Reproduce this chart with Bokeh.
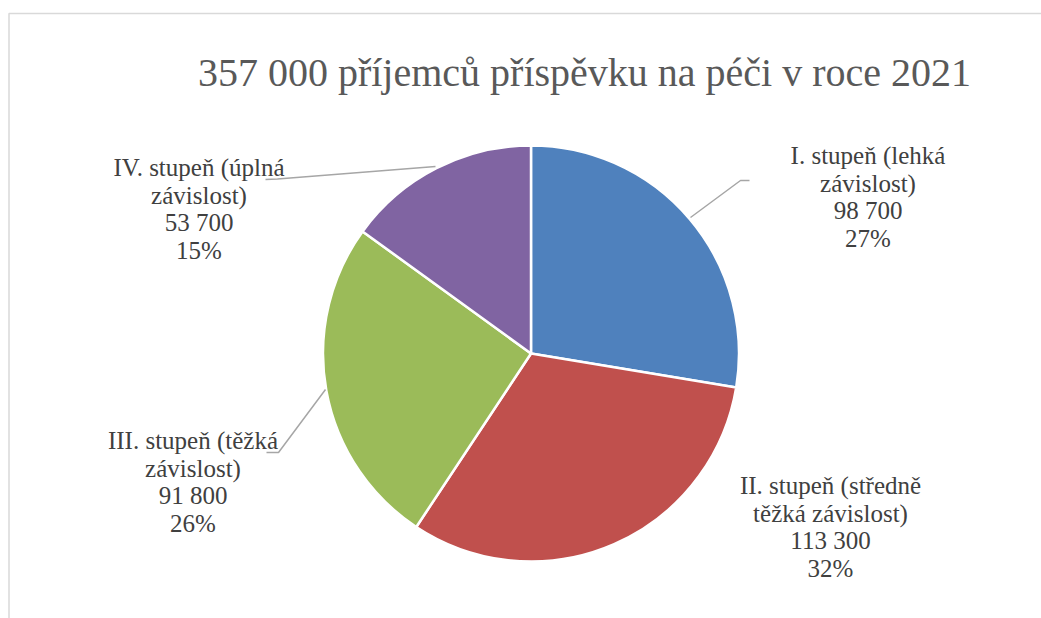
import numpy as np
from bokeh.plotting import figure
from bokeh.models import Range1d
from bokeh.core.properties import value
from bokeh.embed import file_html
from bokeh.resources import INLINE

# ---- data ----
chart_title = "357 000 příjemců příspěvku na péči v roce 2021"
cat_line1 = ["I. stupeň (lehká", "II. stupeň (středně", "III. stupeň (těžká", "IV. stupeň (úplná"]
cat_line2 = ["závislost)", "těžká závislost)", "závislost)", "závislost)"]
values = [98700, 113300, 91800, 53700]
percent_labels = ["27%", "32%", "26%", "15%"]
colors = ["#4F81BD", "#C0504D", "#9BBB59", "#8064A2"]

# ---- layout (page pixel coordinates) ----
W, H = 1041, 618
def X(px):
    return px
def Y(py):
    return H - py

FONT = "Liberation Serif"
p = figure(width=W, height=H, output_backend="svg", toolbar_location=None,
           x_range=Range1d(0, W), y_range=Range1d(0, H), min_border=0,
           background_fill_color="white", border_fill_color="white")
p.axis.visible = False
p.grid.visible = False
p.outline_line_color = None

# frame border
p.line([X(8.5), X(8.5), X(1100)], [Y(700), Y(13), Y(13)], line_color="#D9D9D9", line_width=1.5)

# title
p.text([X(584)], [Y(72)], text=[chart_title], text_font=value(FONT), text_font_size="40px",
       text_color="#595959", text_align="center", text_baseline="middle")

# pie
cx, cy, r = X(530.5), Y(353), 208
total = float(sum(values))
cum = np.cumsum([0] + values) / total
starts = np.pi / 2 - 2 * np.pi * cum[:-1]
ends = np.pi / 2 - 2 * np.pi * cum[1:]
p.wedge(x=cx, y=cy, radius=r, start_angle=list(starts), end_angle=list(ends),
        direction="clock", fill_color=colors, line_color="white", line_width=2.5)

# leader lines
leaders = [
    [(690, 217), (740, 180), (749, 180)],
    None,
    [(325, 389), (278, 452), (266, 452)],
    [(435, 166), (277, 178.5), (265, 179)],
]
for ld in leaders:
    if ld:
        p.line([X(a) for a, b in ld], [Y(b) for a, b in ld], line_color="#A6A6A6", line_width=1.5)

# data labels
label_pos = [(867.5, 155), (830, 485), (192.5, 440), (198.5, 167)]
step = 27.5
for i, (lx, ly) in enumerate(label_pos):
    lines = [cat_line1[i], cat_line2[i], f"{values[i]:,}".replace(",", " "), percent_labels[i]]
    p.text([X(lx)] * 4, [Y(ly + k * step) for k in range(4)], text=lines,
           text_font=value(FONT), text_font_size="25px", text_color="#404040",
           text_align="center", text_baseline="middle")

open("out.html", "w").write(file_html(p, INLINE))
